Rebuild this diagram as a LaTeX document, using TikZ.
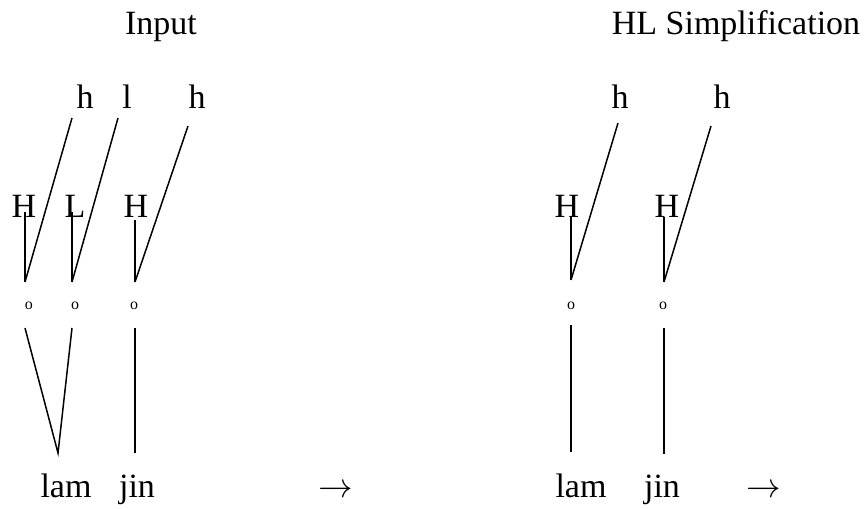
\documentclass[tikz,border=0pt]{standalone}
\usepackage{fontspec}
\setmainfont{Liberation Serif}
\usetikzlibrary{positioning}

\begin{document}
\begin{tikzpicture}[
  x=0.5pt, y=-0.5pt, font=\fontsize{17}{20}\selectfont,
  seg/.style={anchor=base, inner sep=0pt},
  mora/.style={inner sep=0pt, font=\fontsize{8}{9}\selectfont},
  assoc/.style={line width=0.75pt}]
\useasboundingbox (0,0) rectangle (868,509);
% titles
\node[seg] (tin) at (161,34) {Input};
\node[seg] (thl) at (736,34) {HL Simplification};
% input: tiers
\node[seg] (ih1) at (85,108) {h};
\node[seg] (il1) at (127,108) {l};
\node[seg] (ih2) at (197,108) {h};
\node[seg] (iH1) at (24,217) {H};
\node[seg] (iL1) at (75,217) {L};
\node[seg] (iH2) at (136,217) {H};
\node[mora] (io1) at (29,306) {o};
\node[mora] (io2) at (75,306) {o};
\node[mora] (io3) at (134,306) {o};
\node[seg] (ilam) at (66,497) {lam};
\node[seg] (ijin) at (137,497) {jin};
\node[seg] (iarr) at (336,497) {$\rightarrow$};
% input: line ends
\coordinate (ih1e) at (72,118); \coordinate (il1e) at (118,118); \coordinate (ih2e) at (188,126);
\coordinate (iH1e) at (25,212); \coordinate (iL1e) at (72,212); \coordinate (iH2e) at (135,220);
\coordinate (ia1) at (25,282); \coordinate (ia2) at (72,282); \coordinate (ia3) at (135,282);
\coordinate (ib1) at (25,328); \coordinate (ib2) at (72,328); \coordinate (ib3) at (135,328);
\coordinate (ilame) at (58,453); \coordinate (ijine) at (135,453);
\draw[assoc] (ih1e) -- (ia1); \draw[assoc] (il1e) -- (ia2); \draw[assoc] (ih2e) -- (ia3);
\draw[assoc] (iH1e) -- (ia1); \draw[assoc] (iL1e) -- (ia2); \draw[assoc] (iH2e) -- (ia3);
\draw[assoc] (ib1) -- (ilame) -- (ib2);
\draw[assoc] (ib3) -- (ijine);
% HL simplification: tiers
\node[seg] (sh1) at (620,108) {h};
\node[seg] (sh2) at (722,108) {h};
\node[seg] (sH1) at (567,217) {H};
\node[seg] (sH2) at (667,217) {H};
\node[mora] (so1) at (571,306) {o};
\node[mora] (so2) at (663,306) {o};
\node[seg] (slam) at (581,497) {lam};
\node[seg] (sjin) at (662,497) {jin};
\node[seg] (sarr) at (764,497) {$\rightarrow$};
% HL simplification: line ends
\coordinate (sh1e) at (618,123); \coordinate (sh2e) at (711,126);
\coordinate (sH1e) at (571,217); \coordinate (sH2e) at (664,217);
\coordinate (sa1) at (571,280); \coordinate (sa2) at (664,282);
\coordinate (sb1) at (571,325); \coordinate (sb2) at (664,328);
\coordinate (slame) at (571,452); \coordinate (sjine) at (664,454);
\draw[assoc] (sh1e) -- (sa1); \draw[assoc] (sh2e) -- (sa2);
\draw[assoc] (sH1e) -- (sa1); \draw[assoc] (sH2e) -- (sa2);
\draw[assoc] (sb1) -- (slame); \draw[assoc] (sb2) -- (sjine);
\end{tikzpicture}
\end{document}
